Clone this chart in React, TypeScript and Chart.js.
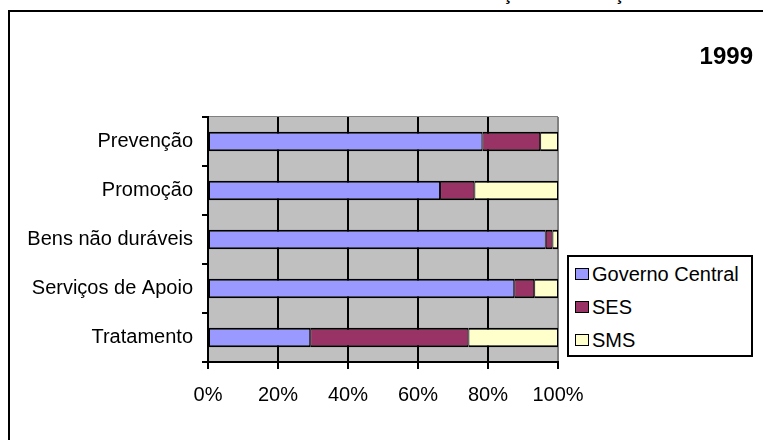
import React, { useEffect, useRef } from "react";
import { Chart, registerables } from "chart.js";

Chart.register(...registerables);

const categories = ["Prevenção", "Promoção", "Bens não duráveis", "Serviços de Apoio", "Tratamento"];
const governoCentral = [78.4, 66.3, 96.5, 87.5, 29.2];
const ses = [16.5, 9.8, 1.9, 5.7, 45.2];
const sms = [5.1, 23.9, 1.6, 6.8, 25.6];
const xTicks = [0, 20, 40, 60, 80, 100];
const seriesNames = ["Governo Central", "SES", "SMS"];
const seriesColors = ["#9999FF", "#993366", "#FFFFCC"];
const yearLabel = "1999";
const titleText = "Gráfico 3 - Fontes de Financiamento das Funções de Atenção";

const FONT = 'Arial, "Liberation Sans", sans-serif';

const plotBg = {
  id: "plotBg",
  beforeDraw(chart: any) {
    const { ctx, chartArea } = chart;
    ctx.save();
    ctx.fillStyle = "#C0C0C0";
    ctx.fillRect(chartArea.left, chartArea.top, chartArea.right - chartArea.left, chartArea.bottom - chartArea.top);
    ctx.strokeStyle = "#808080";
    ctx.lineWidth = 1;
    ctx.strokeRect(chartArea.left + 0.5, chartArea.top - 0.5, chartArea.right - chartArea.left - 1, chartArea.bottom - chartArea.top);
    ctx.restore();
  },
};

export default function App() {
  const ref = useRef<HTMLCanvasElement | null>(null);

  useEffect(() => {
    if (!ref.current) return;
    const data = [governoCentral, ses, sms];
    const chart = new Chart(ref.current, {
      type: "bar",
      data: {
        labels: categories,
        datasets: seriesNames.map((name, i) => ({
          label: name,
          data: data[i],
          backgroundColor: seriesColors[i],
          borderColor: "#000",
          borderWidth: { top: 2, bottom: 2, left: 1, right: 1 },
          borderSkipped: false,
          barPercentage: 0.4,
          categoryPercentage: 1,
        })),
      },
      options: {
        indexAxis: "y",
        responsive: false,
        animation: false,
        layout: { padding: { left: 0, right: 205, top: 117, bottom: 0 } },
        plugins: {
          legend: { display: false },
          tooltip: { enabled: false },
          title: { display: false },
        },
        scales: {
          x: {
            stacked: true,
            min: 0,
            max: 100,
            afterBuildTicks: (scale: any) => {
              scale.ticks = xTicks.map((v) => ({ value: v }));
            },
            afterFit: (scale: any) => {
              scale.height = 78;
            },
            ticks: {
              callback: (v: any) => v + "%",
              font: { family: FONT, size: 20 },
              color: "#000",
              padding: 14,
              maxRotation: 0,
              autoSkip: false,
            },
            grid: {
              color: (ctx: any) => (ctx.tick && ctx.tick.value === 100 ? "#808080" : "#000"),
              lineWidth: 2,
              tickLength: 7,
              tickColor: "#000",
              drawTicks: true,
            },
            border: { display: true, color: "#000", width: 2 },
          },
          y: {
            stacked: true,
            afterFit: (scale: any) => {
              scale.width = 208;
            },
            ticks: {
              font: { family: FONT, size: 20 },
              color: "#000",
              padding: 9,
              autoSkip: false,
            },
            grid: {
              offset: true,
              drawOnChartArea: false,
              tickLength: 6,
              tickColor: "#000",
              lineWidth: 2,
            },
            border: { display: true, color: "#000", width: 2 },
          },
        },
      },
      plugins: [plotBg],
    } as any);
    return () => chart.destroy();
  }, []);

  const legendRowTops = [18, 51, 84];

  return (
    <div
      style={{
        position: "absolute",
        left: 0,
        top: 0,
        width: 763,
        height: 440,
        overflow: "hidden",
        background: "#fff",
        fontFamily: FONT,
      }}
    >
      <div
        style={{
          position: "absolute",
          left: 8,
          top: 10,
          width: 900,
          height: 600,
          border: "2px solid #000",
        }}
      />
      <div
        style={{
          position: "absolute",
          left: 0,
          top: -16,
          width: 763,
          textAlign: "center",
          fontWeight: "bold",
          fontSize: 18,
          lineHeight: "20px",
          whiteSpace: "nowrap",
        }}
      >
        {titleText}
      </div>
      <canvas
        ref={ref}
        width={763}
        height={440}
        style={{ position: "absolute", left: 0, top: 0, display: "block" }}
      />
      <div
        style={{
          position: "absolute",
          left: 600,
          top: 42,
          width: 153,
          textAlign: "right",
          fontWeight: "bold",
          fontSize: 24,
          lineHeight: "28px",
        }}
      >
        {yearLabel}
      </div>
      <div
        style={{
          position: "absolute",
          left: 567,
          top: 255,
          width: 186,
          height: 102,
          boxSizing: "border-box",
          border: "2px solid #000",
          background: "#fff",
        }}
      >
        {seriesNames.map((name, i) => (
          <div key={name}>
            <div
              style={{
                position: "absolute",
                left: 6,
                top: legendRowTops[i] - 7,
                width: 14,
                height: 12,
                boxSizing: "border-box",
                border: "1.5px solid #000",
                background: seriesColors[i],
              }}
            />
            <div
              style={{
                position: "absolute",
                left: 23,
                top: legendRowTops[i] - 13,
                fontSize: 20,
                lineHeight: "24px",
                whiteSpace: "nowrap",
              }}
            >
              {name}
            </div>
          </div>
        ))}
      </div>
    </div>
  );
}
